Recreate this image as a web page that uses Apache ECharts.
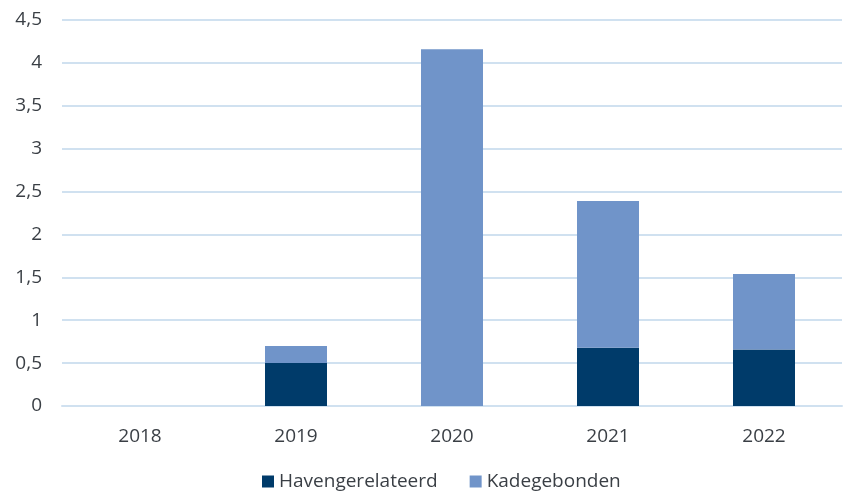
<!DOCTYPE html>
<html>
<head>
<meta charset="utf-8">
<script src="https://cdn.jsdelivr.net/npm/echarts@6/dist/echarts.min.js"></script>
<style>
  html, body { margin: 0; padding: 0; background: #fff; }
  #main { width: 843px; height: 493px; }
</style>
</head>
<body>
<div id="main"></div>
<script>
// jaren en waarden
var jaren = ['2018', '2019', '2020', '2021', '2022'];
var havengerelateerd = [0, 0.5, 0, 0.68, 0.66];
var kadegebonden = [0, 0.2, 4.16, 1.71, 0.88];
var reeksNamen = ['Havengerelateerd', 'Kadegebonden'];
var kleuren = ['#003b6a', '#7094c9'];

var tekstKleur = '#3a3f45';
var lettertype = '"Open Sans", "Noto Sans", sans-serif';

function komma(v) {
  return String(v).replace('.', ',');
}

var option = {
  animation: false,
  textStyle: { fontFamily: lettertype, color: tekstKleur },
  grid: { left: 62, right: 1, top: 20, bottom: 87 },
  legend: {
    data: reeksNamen,
    bottom: -3,
    left: 257,
    itemWidth: 12,
    itemHeight: 12,
    itemGap: 32,
    icon: 'rect',
    textStyle: { fontSize: 19, color: tekstKleur, fontFamily: lettertype }
  },
  xAxis: {
    type: 'category',
    data: jaren,
    axisLine: { show: true, lineStyle: { color: '#d0e1f0', width: 2 } },
    axisTick: { show: false },
    axisLabel: { fontSize: 19, color: tekstKleur, margin: 21 }
  },
  yAxis: {
    type: 'value',
    min: 0,
    max: 4.5,
    interval: 0.5,
    axisLine: { show: false },
    axisTick: { show: false },
    splitLine: { lineStyle: { color: '#d0e1f0', width: 2 } },
    axisLabel: { fontSize: 19, color: tekstKleur, margin: 20, formatter: komma }
  },
  series: [
    {
      name: reeksNamen[0],
      type: 'bar',
      stack: 'totaal',
      data: havengerelateerd,
      barWidth: 62,
      itemStyle: { color: kleuren[0] }
    },
    {
      name: reeksNamen[1],
      type: 'bar',
      stack: 'totaal',
      data: kadegebonden,
      barWidth: 62,
      itemStyle: { color: kleuren[1] }
    }
  ]
};

echarts.init(document.getElementById('main')).setOption(option);
</script>
</body>
</html>
